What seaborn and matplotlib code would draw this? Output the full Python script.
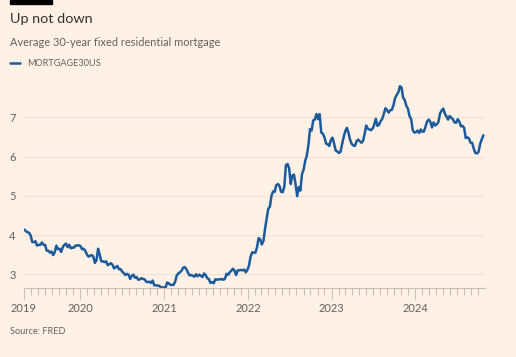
import numpy as np
import pandas as pd
import matplotlib
matplotlib.use("Agg")
import matplotlib.pyplot as plt
import matplotlib.dates as mdates
import seaborn as sns

title = "Up not down"
subtitle = "Average 30-year fixed residential mortgage"
series_name = "MORTGAGE30US"
source = "Source: FRED"

start_date = "2019-05-02"
rates_2019 = [4.14, 4.10, 4.07, 4.06, 3.99, 3.82, 3.82, 3.84, 3.73, 3.75, 3.75, 3.81, 3.75,
              3.75, 3.60, 3.60, 3.55, 3.58, 3.49, 3.56, 3.73, 3.64, 3.65, 3.57, 3.69, 3.75,
              3.78, 3.69, 3.75, 3.66, 3.68, 3.68, 3.73, 3.73, 3.74]
rates_2020 = [3.72, 3.64, 3.65, 3.60, 3.51, 3.45, 3.47, 3.49, 3.45, 3.29, 3.36, 3.65, 3.50,
              3.33, 3.33, 3.31, 3.33, 3.23, 3.26, 3.28, 3.24, 3.15, 3.18, 3.21, 3.13, 3.13,
              3.07, 3.03, 2.98, 3.01, 2.99, 2.88, 2.96, 2.99, 2.91, 2.93, 2.86, 2.87, 2.90,
              2.88, 2.87, 2.81, 2.80, 2.81, 2.78, 2.84, 2.72, 2.72, 2.71, 2.71, 2.67, 2.66, 2.67]
rates_2021 = [2.65, 2.79, 2.77, 2.73, 2.73, 2.73, 2.81, 2.97, 3.02, 3.05, 3.09, 3.17, 3.18,
              3.13, 3.04, 2.97, 2.98, 2.96, 2.94, 3.00, 2.95, 2.99, 2.96, 2.93, 3.02, 2.98,
              2.90, 2.88, 2.78, 2.80, 2.77, 2.87, 2.86, 2.87, 2.87, 2.88, 2.86, 2.88, 3.01,
              2.99, 3.05, 3.09, 3.14, 3.09, 2.98, 3.10, 3.10, 3.11, 3.10, 3.12, 3.05, 3.11]
rates_2022 = [3.22, 3.45, 3.56, 3.55, 3.55, 3.69, 3.92, 3.89, 3.76, 3.85, 4.16, 4.42, 4.67,
              4.72, 5.00, 5.11, 5.10, 5.27, 5.30, 5.25, 5.10, 5.09, 5.23, 5.78, 5.81, 5.70,
              5.30, 5.51, 5.54, 5.30, 4.99, 5.22, 5.13, 5.55, 5.66, 5.89, 6.02, 6.29, 6.70,
              6.66, 6.92, 6.94, 7.08, 6.95, 7.08, 6.61, 6.58, 6.49, 6.33, 6.31, 6.27, 6.42]
rates_2023 = [6.48, 6.33, 6.15, 6.13, 6.09, 6.12, 6.32, 6.50, 6.65, 6.73, 6.60, 6.42, 6.32,
              6.28, 6.27, 6.39, 6.43, 6.39, 6.35, 6.39, 6.57, 6.79, 6.71, 6.69, 6.67, 6.71,
              6.81, 6.96, 6.78, 6.81, 6.90, 6.96, 7.09, 7.23, 7.18, 7.12, 7.18, 7.19, 7.31,
              7.49, 7.57, 7.63, 7.79, 7.76, 7.50, 7.44, 7.29, 7.22, 7.03, 6.95, 6.67, 6.61]
rates_2024 = [6.62, 6.66, 6.60, 6.69, 6.63, 6.64, 6.77, 6.90, 6.94, 6.88, 6.74, 6.87, 6.79,
              6.82, 6.88, 7.10, 7.17, 7.22, 7.09, 7.02, 6.94, 7.03, 6.99, 6.95, 6.87, 6.86,
              6.95, 6.89, 6.77, 6.78, 6.73, 6.47, 6.49, 6.46, 6.35, 6.35, 6.20, 6.09, 6.08,
              6.12, 6.32, 6.44, 6.54]

rates = rates_2019 + rates_2020 + rates_2021 + rates_2022 + rates_2023 + rates_2024
dates = pd.date_range(start_date, periods=len(rates), freq="7D")
df = pd.DataFrame({"date": dates, "rate": rates})

year_ticks = ["2019-05-01", "2020-01-01", "2021-01-01", "2022-01-01", "2023-01-01", "2024-01-01"]
year_labels = ["2019", "2020", "2021", "2022", "2023", "2024"]
y_ticks = [3, 4, 5, 6, 7]

BG = "#FFF1E5"
LINE = "#1B5A9C"
GRID = "#F2E2D4"
TXT = "#66605C"
AXC = "#C9BEB4"

sns.set_theme(style="white")
plt.rcParams["font.family"] = ["Lato", "DejaVu Sans"]

fig = plt.figure(figsize=(5.16, 3.57), dpi=100, facecolor=BG)
ax = fig.add_axes([24 / 516, 1 - 288 / 357, (485 - 24) / 516, (288 - 78) / 357])
ax.set_facecolor(BG)

sns.lineplot(data=df, x="date", y="rate", ax=ax, color=LINE, linewidth=1.8)

ax.set_xlim(pd.Timestamp("2019-05-01"), pd.Timestamp("2024-10-31"))
ax.set_ylim(2.65, 8.0)
ax.set_yticks(y_ticks)
ax.set_yticklabels([str(v) for v in y_ticks])
ax.yaxis.grid(True, color=GRID, linewidth=0.9)
ax.tick_params(axis="y", length=0, pad=6, labelsize=8, labelcolor=TXT)

ax.set_xticks(pd.to_datetime(year_ticks))
ax.set_xticklabels(year_labels)
ax.xaxis.set_minor_locator(mdates.MonthLocator())
ax.tick_params(axis="x", which="both", bottom=True)
ax.tick_params(axis="x", which="major", length=8, width=0.8, color=AXC,
               labelsize=8, labelcolor=TXT, pad=3)
ax.tick_params(axis="x", which="minor", length=5, width=0.8, color=AXC)
ax.set_xlabel("")
ax.set_ylabel("")
for s in ["top", "right", "left"]:
    ax.spines[s].set_visible(False)
ax.spines["bottom"].set_color(AXC)
ax.spines["bottom"].set_linewidth(0.8)

# header
fig.patches.append(plt.Rectangle((10 / 516, 1 - 4 / 357), 42 / 516, 4 / 357,
                                 transform=fig.transFigure, color="#000000", zorder=5))
fig.text(10 / 516, 1 - 19 / 357, title, fontsize=10.4, color="#33302E", va="center", ha="left")
fig.text(10 / 516, 1 - 42 / 357, subtitle, fontsize=7.9, color=TXT, va="center", ha="left")
fig.lines.append(plt.Line2D([10 / 516, 20 / 516], [1 - 63 / 357, 1 - 63 / 357],
                            transform=fig.transFigure, color=LINE, linewidth=1.8))
fig.text(27 / 516, 1 - 63 / 357, series_name, fontsize=6.6, color=TXT, va="center", ha="left")
fig.text(10 / 516, 1 - 331 / 357, source, fontsize=6.6, color=TXT, va="center", ha="left")

fig.savefig("out.png", dpi=100, facecolor=BG)
